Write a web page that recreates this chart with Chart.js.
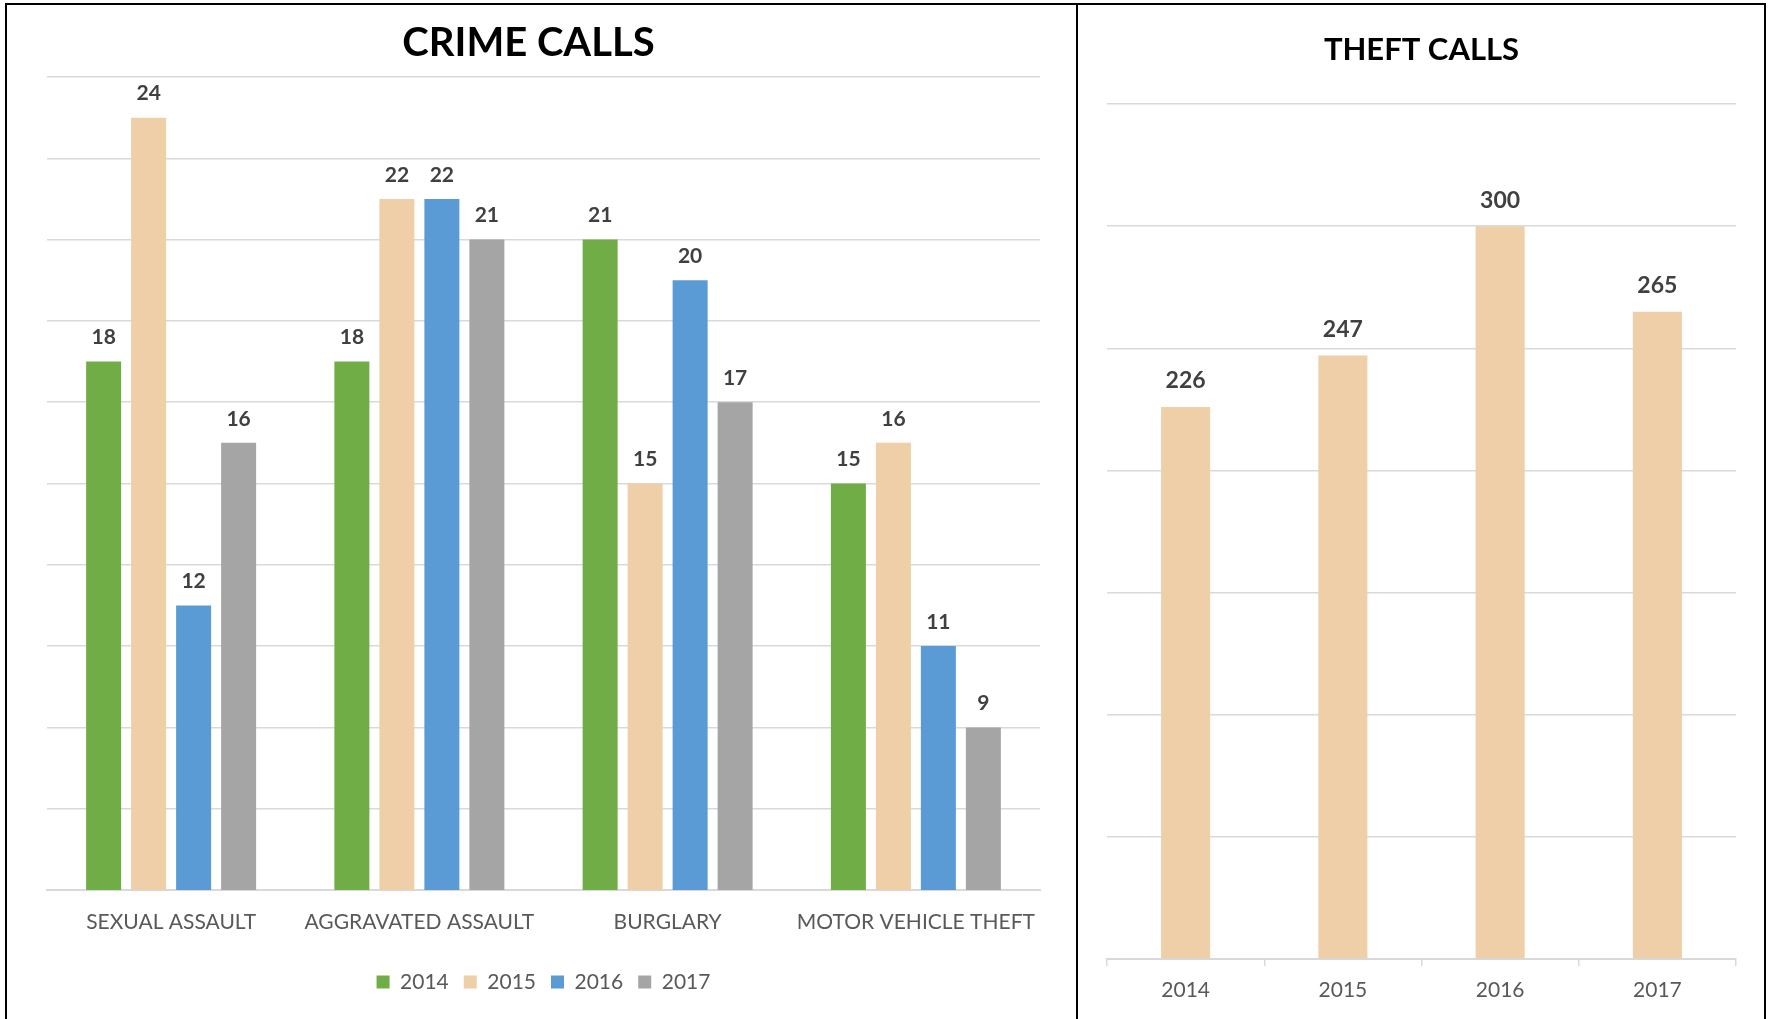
<!DOCTYPE html>
<html>
<head>
<meta charset="utf-8">
<title>Crime calls</title>
<script src="https://cdn.jsdelivr.net/npm/chart.js@4.4.1/dist/chart.umd.min.js"></script>
<style>
    html, body { margin: 0; padding: 0; background: #fff; }
    body { width: 1771px; height: 1019px; position: relative; overflow: hidden; }
    canvas { position: absolute; top: 0; }
    #crimeChart { left: 0; }
    #theftChart { left: 1078px; }
    .frame { position: absolute; left: 5px; top: 3px; width: 1757px; height: 1030px; border: 2px solid #000; border-bottom: none; pointer-events: none; }
    .divider { position: absolute; left: 1076px; top: 3px; width: 2px; height: 1030px; background: #000; pointer-events: none; }
</style>
</head>
<body>
<canvas id="crimeChart" width="1076" height="1019"></canvas>
<canvas id="theftChart" width="693" height="1019"></canvas>
<div class="frame"></div>
<div class="divider"></div>

<script>
const categories = ['SEXUAL ASSAULT', 'AGGRAVATED ASSAULT', 'BURGLARY', 'MOTOR VEHICLE THEFT'];
const years = ['2014', '2015', '2016', '2017'];
const calls2014 = [18, 18, 21, 15];
const calls2015 = [24, 22, 15, 16];
const calls2016 = [12, 22, 20, 11];
const calls2017 = [16, 21, 17, 9];
const crimeTicks = { min: 5, max: 25, step: 2 };

const theftYears = ['2014', '2015', '2016', '2017'];
const theftCalls = [226, 247, 300, 265];
const theftTicks = { min: 0, max: 350, step: 50 };

window.CallsPage = (() => {
    const FONT = 'Lato, "Open Sans", sans-serif';
    const GRID = '#D9D9D9';
    const colors = { 2014: '#70AD47', 2015: '#EECFA7', 2016: '#5B9BD5', 2017: '#A5A5A5' };

    // draws the value above each bar, from the bar elements the library laid out
    const valueLabels = (size, gap) => ({
        id: 'valueLabels',
        afterDatasetsDraw(chart) {
            const { ctx } = chart;
            ctx.save();
            ctx.font = `bold ${size}px ${FONT}`;
            ctx.fillStyle = '#404040';
            ctx.textAlign = 'center';
            ctx.textBaseline = 'middle';
            chart.data.datasets.forEach((ds, i) => {
                chart.getDatasetMeta(i).data.forEach((bar, j) => {
                    ctx.fillText(String(ds.data[j]), bar.x, bar.y - gap);
                });
            });
            ctx.restore();
        }
    });

    function renderCrime() {
        const canvas = document.getElementById('crimeChart');
        const series = [calls2014, calls2015, calls2016, calls2017];
        new Chart(canvas, {
            type: 'bar',
            data: {
                labels: categories,
                datasets: years.map((year, i) => ({
                    label: year,
                    data: series[i],
                    backgroundColor: colors[year],
                    categoryPercentage: 0.725,
                    barPercentage: 0.778
                }))
            },
            options: {
                responsive: false,
                animation: false,
                layout: { padding: { left: 17, right: 36, top: 0, bottom: 16.5 } },
                plugins: {
                    title: {
                        display: true,
                        text: 'CRIME CALLS',
                        color: '#000',
                        font: { family: FONT, size: 40, weight: 'bold' },
                        padding: { top: 19, bottom: 10 }
                    },
                    legend: {
                        position: 'bottom',
                        fullSize: false,
                        labels: {
                            color: '#595959',
                            font: { family: FONT, size: 21 },
                            boxWidth: 13,
                            boxHeight: 13,
                            padding: 15
                        }
                    },
                    tooltip: { enabled: false }
                },
                scales: {
                    x: {
                        grid: { display: false },
                        border: { display: true, color: GRID, width: 2 },
                        ticks: { color: '#595959', font: { family: FONT, size: 21 }, padding: 12, maxRotation: 0 },
                        afterFit: (scale) => { scale.height = 66.5; }
                    },
                    y: {
                        min: crimeTicks.min,
                        max: crimeTicks.max,
                        ticks: { stepSize: crimeTicks.step, display: false },
                        grid: { color: GRID, lineWidth: 1.5, drawTicks: false },
                        border: { display: false },
                        afterFit: (scale) => { scale.width = 30; }
                    }
                }
            },
            plugins: [valueLabels(21, 24)]
        });
    }

    function renderTheft() {
        const canvas = document.getElementById('theftChart');
        new Chart(canvas, {
            type: 'bar',
            data: {
                labels: theftYears,
                datasets: [{
                    label: 'Theft',
                    data: theftCalls,
                    backgroundColor: colors[2015],
                    categoryPercentage: 1,
                    barPercentage: 0.312
                }]
            },
            options: {
                responsive: false,
                animation: false,
                layout: { padding: { left: 29, right: 35, top: 0, bottom: 0 } },
                plugins: {
                    title: {
                        display: true,
                        text: 'THEFT CALLS',
                        color: '#000',
                        font: { family: FONT, size: 31, weight: 'bold' },
                        padding: { top: 31, bottom: 35.8 }
                    },
                    legend: { display: false },
                    tooltip: { enabled: false }
                },
                scales: {
                    x: {
                        grid: { color: GRID, lineWidth: 1.5, drawOnChartArea: false, drawTicks: true, tickLength: 7 },
                        border: { display: true, color: GRID, width: 2 },
                        ticks: { color: '#595959', font: { family: FONT, size: 21 }, padding: 11.4, maxRotation: 0 },
                        afterFit: (scale) => { scale.height = 60; }
                    },
                    y: {
                        min: theftTicks.min,
                        max: theftTicks.max,
                        ticks: { stepSize: theftTicks.step, display: false },
                        grid: { color: GRID, lineWidth: 1.5, drawTicks: false },
                        border: { display: false },
                        afterFit: (scale) => { scale.width = 0; }
                    }
                }
            },
            plugins: [valueLabels(23, 26)]
        });
    }

    function init() {
        if (!window.Chart) return;
        renderCrime();
        renderTheft();
    }

    return { init };
})();

document.addEventListener('DOMContentLoaded', () => {
    window.CallsPage.init();
});
</script>
</body>
</html>
